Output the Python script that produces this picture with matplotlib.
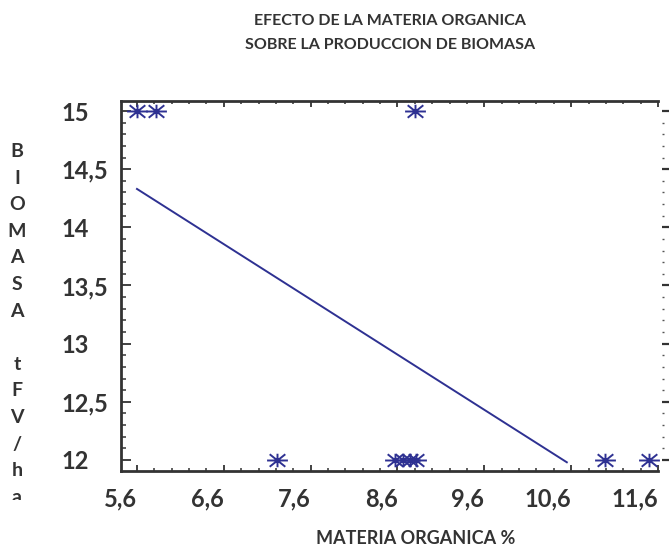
import matplotlib
matplotlib.use("Agg")
import matplotlib.pyplot as plt
from matplotlib.path import Path
from matplotlib.ticker import FixedLocator, MultipleLocator
from matplotlib.patches import Rectangle

# ---- data ----
x_top = [5.6, 5.82, 8.8]
y_top = [15.0, 15.0, 15.0]
x_bottom = [7.21, 8.57, 8.66, 8.74, 8.81, 10.99, 11.5]
y_bottom = [12.0, 12.0, 12.0, 12.0, 12.0, 12.0, 12.0]
fit_x = [5.6, 10.55]
fit_y = [14.33, 11.98]

x_ticks = [5.6, 6.6, 7.6, 8.6, 9.6, 10.6, 11.6]
x_tick_labels = ["5,6", "6,6", "7,6", "8,6", "9,6", "10,6", "11,6"]
y_ticks = [12, 12.5, 13, 13.5, 14, 14.5, 15]
y_tick_labels = ["12", "12,5", "13", "13,5", "14", "14,5", "15"]

title_text = "EFECTO DE LA MATERIA ORGANICA\nSOBRE LA PRODUCCION DE BIOMASA"
xlabel_text = "MATERIA ORGANICA %"
ylabel_text = "BIOMASA tFV/ha"

# ---- style ----
FONT = "Lato"
TXT = "#333333"
BLUE = "#2E3192"
W, H = 669, 548

fig = plt.figure(figsize=(W / 100, H / 100), dpi=100)
ax = fig.add_axes([121 / W, (H - 471) / H, (658 - 121) / W, (471 - 101) / H])

ax.set_xlim(5.416, 11.6)
ax.set_ylim(11.905, 15.086)

# asterisk marker: wide horizontal arm, diagonals, short vertical
verts = [(-1, 0), (1, 0), (-0.75, -0.6), (0.75, 0.6), (-0.75, 0.6), (0.75, -0.6), (0, -0.65), (0, 0.65)]
codes = [Path.MOVETO, Path.LINETO] * 4
star = Path(verts, codes)

ax.plot(x_top, y_top, linestyle="none", marker=star, markersize=15,
        markeredgecolor=BLUE, markerfacecolor="none", markeredgewidth=1.4, clip_on=False, zorder=5)
ax.plot(x_bottom, y_bottom, linestyle="none", marker=star, markersize=15,
        markeredgecolor=BLUE, markerfacecolor="none", markeredgewidth=1.4, clip_on=False, zorder=5)
ax.plot(fit_x, fit_y, color=BLUE, linewidth=1.4, zorder=4)

# ticks
ax.xaxis.set_major_locator(FixedLocator(x_ticks))
ax.set_xticklabels(x_tick_labels)
ax.xaxis.set_minor_locator(MultipleLocator(0.2))
ax.yaxis.set_major_locator(FixedLocator(y_ticks))
ax.set_yticklabels(y_tick_labels)
ax.yaxis.set_minor_locator(MultipleLocator(0.1))

ax.tick_params(axis="x", which="major", direction="in", top=True, bottom=True,
               length=4.5, width=1.3, color="#333333", pad=12.0,
               labelsize=17, labelcolor=TXT)
ax.tick_params(axis="x", which="minor", direction="in", top=True, bottom=True,
               length=2.3, width=1.1, color="#333333")
ax.tick_params(axis="y", which="major", direction="in", left=True, right=False,
               length=7.5, width=1.3, color="#333333", pad=42.5,
               labelsize=17, labelcolor=TXT)
ax.tick_params(axis="y", which="minor", direction="in", left=True, right=False,
               length=3.8, width=1.1, color="#333333")
for lab in ax.get_yticklabels():
    lab.set_horizontalalignment("left")
    lab.set_fontfamily(FONT)
    lab.set_fontweight("bold")
for lab in ax.get_xticklabels():
    lab.set_horizontalalignment("right")
    lab.set_fontfamily(FONT)
    lab.set_fontweight("bold")

for s in ["left", "bottom", "top"]:
    ax.spines[s].set_linewidth(2.0)
    ax.spines[s].set_color("#333333")
ax.spines["right"].set_visible(False)

# right-hand detached ticks
ax2 = ax.twinx()
ax2.set_ylim(ax.get_ylim())
ax2.spines["right"].set_position(("outward", 3))
for s in ["left", "bottom", "top", "right"]:
    ax2.spines[s].set_visible(False)
ax2.yaxis.set_major_locator(FixedLocator(y_ticks))
ax2.yaxis.set_minor_locator(MultipleLocator(0.1))
ax2.tick_params(axis="y", which="major", direction="out", length=5, width=1.6,
                color="#333333", labelright=False)
ax2.tick_params(axis="y", which="minor", direction="out", length=1.5, width=1.0,
                color="#555555", labelright=False)

# title
fig.text(390 / W, 1 - 33 / H, title_text, ha="center", va="center",
         fontsize=11.5, fontweight="bold", fontfamily=FONT, color=TXT, linespacing=1.95)

# x label
fig.text(416 / W, 1 - 539 / H, xlabel_text, ha="center", va="center",
         fontsize=13, fontweight="bold", fontfamily=FONT, color=TXT)

# vertical stacked y label
i = 0
for ch in ylabel_text:
    if ch != " ":
        fig.text(17 / W, 1 - (157 + 26.6 * i) / H, ch, ha="center", va="baseline",
                 fontsize=14, fontweight="bold", fontfamily=FONT, color=TXT)
    i += 1

# the last letter is partially hidden in the original
fig.patches.append(Rectangle((0, 0), 45 / W, 48.5 / H, transform=fig.transFigure,
                             facecolor="white", edgecolor="none", zorder=10))

fig.savefig("out.png", dpi=100)
